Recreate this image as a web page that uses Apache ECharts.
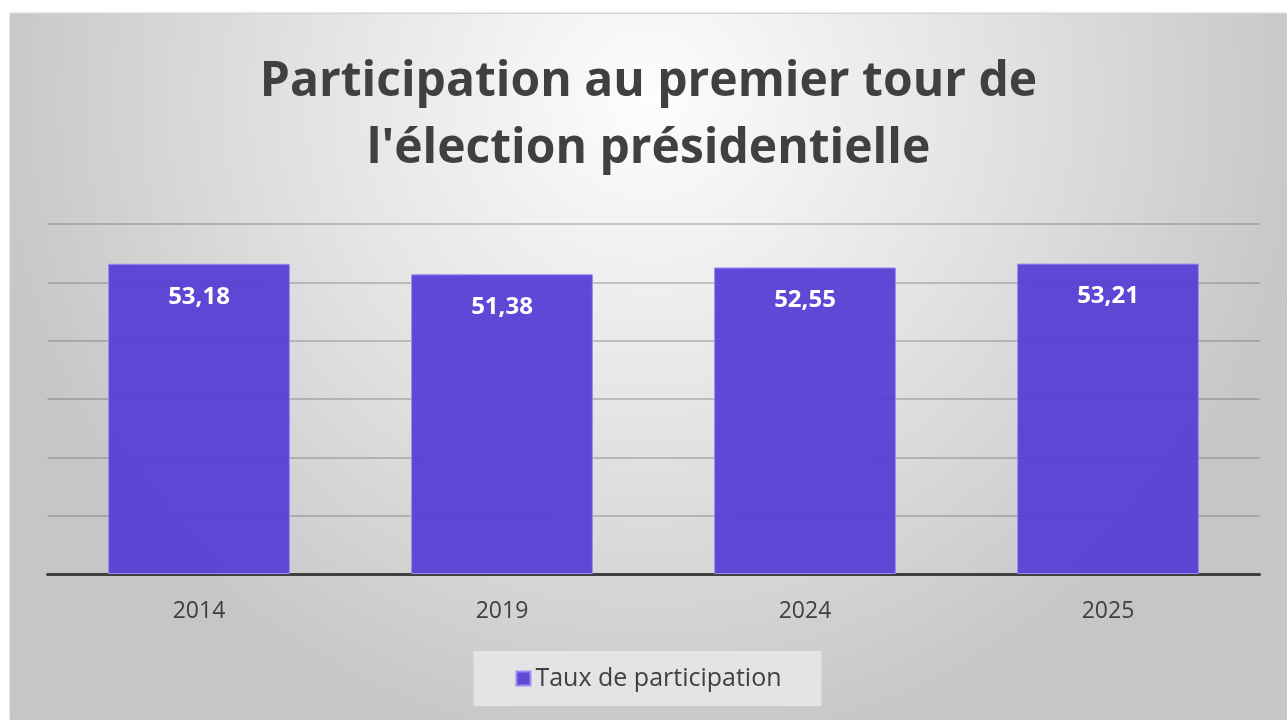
<!DOCTYPE html>
<html>
<head>
<meta charset="utf-8">
<script src="https://cdn.jsdelivr.net/npm/echarts@6/dist/echarts.min.js"></script>
<style>
  html, body { margin: 0; padding: 0; background: #ffffff; }
  .frame {
    position: absolute;
    left: 10px;
    top: 14px;
    width: 1277px;
    height: 706px;
    box-shadow: 0 -1px 2px rgba(0,0,0,0.25);
  }
  #chart { width: 100%; height: 100%; }
</style>
</head>
<body>
<div class="frame"><div id="chart"></div></div>
<script>
// données
const years = ['2014', '2019', '2024', '2025']
const participation = [53.18, 51.38, 52.55, 53.21]
const seriesName = 'Taux de participation'
const titleText = 'Participation au premier tour de\nl\'élection présidentielle'

const chart = echarts.init(document.getElementById('chart'))

const option = {
  backgroundColor: new echarts.graphic.RadialGradient(0.5, 0.12, 0.95, [
    { offset: 0, color: '#fdfdfd' },
    { offset: 0.45, color: '#e6e6e6' },
    { offset: 1, color: '#c6c6c6' }
  ]),
  title: {
    text: titleText,
    left: 'center',
    top: 30,
    textStyle: {
      fontFamily: 'Open Sans',
      fontWeight: 'bold',
      fontSize: 48,
      lineHeight: 67,
      color: '#404040'
    }
  },
  legend: {
    data: [seriesName],
    bottom: 14,
    left: 'center',
    icon: 'rect',
    itemWidth: 14,
    itemHeight: 14,
    itemGap: 6,
    padding: [15, 40, 15, 42],
    backgroundColor: '#e4e4e4',
    textStyle: {
      fontFamily: 'Open Sans',
      fontSize: 25,
      color: '#404040'
    }
  },
  grid: {
    left: 37.5,
    right: 27.5,
    top: 210,
    bottom: 146
  },
  xAxis: {
    type: 'category',
    data: years,
    axisTick: { show: false },
    axisLine: {
      show: true,
      lineStyle: { color: '#404040', width: 3 }
    },
    axisLabel: {
      fontFamily: 'Open Sans',
      fontSize: 23,
      color: '#404040',
      margin: 26
    }
  },
  yAxis: {
    type: 'value',
    min: 0,
    max: 60,
    interval: 10,
    axisLabel: { show: false },
    axisLine: { show: false },
    axisTick: { show: false },
    splitLine: {
      show: true,
      lineStyle: { color: 'rgba(90,90,90,0.3)', width: 2 }
    }
  },
  series: [
    {
      name: seriesName,
      type: 'bar',
      data: participation,
      barWidth: '60%',
      itemStyle: {
        color: 'rgba(88,62,213,0.95)',
        borderColor: '#9a8cf0',
        borderWidth: 1
      },
      label: {
        show: true,
        position: 'insideTop',
        distance: 21,
        fontFamily: 'Open Sans',
        fontWeight: 'bold',
        fontSize: 24,
        color: '#ffffff',
        formatter: (p) => p.value.toFixed(2).replace('.', ',')
      }
    }
  ]
}

chart.setOption(option)
</script>
</body>
</html>
